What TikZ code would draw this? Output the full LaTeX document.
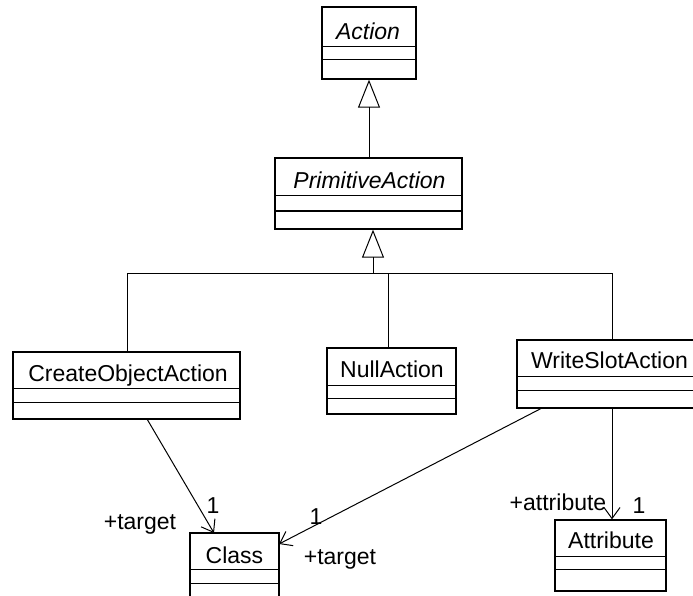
\documentclass[tikz,border=0pt]{standalone}
\usepackage{fontspec}
\setmainfont{Liberation Sans}
\usetikzlibrary{arrows.meta,fit}
\begin{document}
\begin{tikzpicture}[x=1pt,y=-1pt,
  cls/.style={draw,line width=1.3pt,inner sep=0pt,fill=white},
  lbl/.style={anchor=base,inner sep=0pt,font=\fontsize{23}{27}\selectfont},
  conn/.style={line width=1pt},
  gen/.style={line width=1pt,-{Triangle[open,length=28pt,width=22pt,line width=1pt]}},
  assoc/.style={line width=1pt,-{Straight Barb[length=11pt,width=16pt,line width=1pt]}}]
\useasboundingbox (0,0) rectangle (693,596);
% class boxes
\newcommand\umlcls[7]{%
  \coordinate (#1a) at (#2,#3); \coordinate (#1b) at (#4,#5);
  \node[cls,fit=(#1a)(#1b)] (#1) {};
  \draw[line width=1pt] (#1.west |- 0,#6) -- (#1.east |- 0,#6);
  \draw[line width=1pt] (#1.west |- 0,#7) -- (#1.east |- 0,#7);}
\umlcls{action}{322}{7}{416}{79}{47}{60}
\umlcls{prim}{275}{158}{462}{229}{196}{211}
\umlcls{create}{13}{352}{240}{419}{388}{402}
\umlcls{null}{327}{348}{456}{414}{385}{398}
\umlcls{ws}{517}{340}{707}{408}{376}{390}
\umlcls{cl}{190}{533}{279}{610}{569}{583}
\umlcls{attr}{555}{520}{666}{591}{556}{569}
% names
\node[lbl] (actionT) at (368,40) {\itshape Action};
\node[lbl] (primT) at (369.5,189) {\itshape PrimitiveAction};
\node[lbl] (createT) at (128,381) {CreateObjectAction};
\node[lbl] (nullT) at (392,377) {NullAction};
\node[lbl] (wsT) at (609.5,368) {WriteSlotAction};
\node[lbl] (clT) at (234.5,563) {Class};
\node[lbl] (attrT) at (611,548) {Attribute};
% generalizations
\coordinate (g1) at (369,158);
\draw[gen] (g1) -- (g1 |- action.south);
\coordinate (bus) at (373,273);
\coordinate (busL) at (127,273);
\coordinate (busN) at (388,273);
\coordinate (busR) at (612,273);
\draw[gen] (bus) -- (bus |- prim.south);
\draw[conn] (busL) -- (busR);
\draw[conn] (busL) -- (busL |- create.north);
\draw[conn] (busN) -- (busN |- null.north);
\draw[conn] (busR) -- (busR |- ws.north);
% associations
\coordinate (c1s) at (147,419);
\coordinate (c1e) at (214,533);
\draw[assoc] (c1s) -- (c1e);
\coordinate (c2s) at (542,408);
\coordinate (c2e) at (279,544);
\draw[assoc] (c2s) -- (c2e);
\coordinate (c3s) at (612,408);
\draw[assoc] (c3s) -- (c3s |- attr.north);
% role labels
\node[lbl] (m1) at (213,513) {1};
\node[lbl] (r1) at (140,529) {+target};
\node[lbl] (m2) at (316,524) {1};
\node[lbl] (r2) at (340,564) {+target};
\node[lbl] (r3) at (558,510) {+attribute};
\node[lbl] (m3) at (639,513) {1};
\end{tikzpicture}
\end{document}
